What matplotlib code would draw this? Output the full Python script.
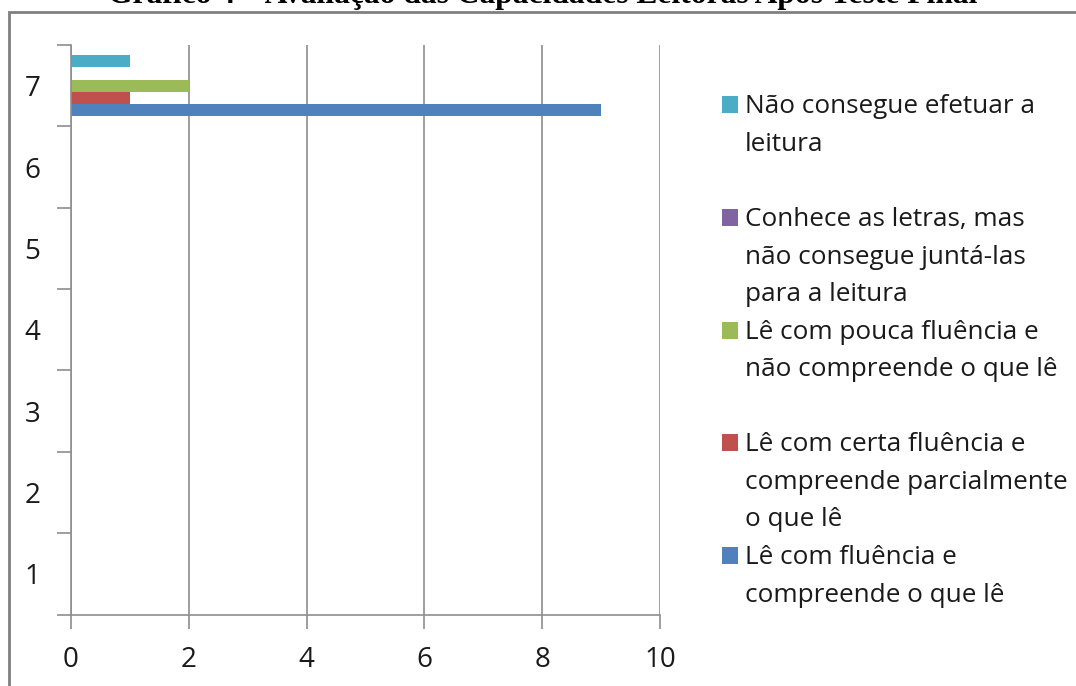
import matplotlib
matplotlib.use('Agg')
import matplotlib.pyplot as plt
from matplotlib.patches import Rectangle

# dados do gráfico
categorias = [1, 2, 3, 4, 5, 6, 7]
le_com_fluencia = [0, 0, 0, 0, 0, 0, 9]
le_certa_fluencia = [0, 0, 0, 0, 0, 0, 1]
le_pouca_fluencia = [0, 0, 0, 0, 0, 0, 2]
conhece_letras = [0, 0, 0, 0, 0, 0, 0]
nao_consegue = [0, 0, 0, 0, 0, 0, 1]

# de baixo para cima dentro de cada categoria
series = [le_com_fluencia, le_certa_fluencia, le_pouca_fluencia, conhece_letras, nao_consegue]
rotulos = [
    ["Lê com fluência e", "compreende o que lê"],
    ["Lê com certa fluência e", "compreende parcialmente", "o que lê"],
    ["Lê com pouca fluência e", "não compreende o que lê"],
    ["Conhece as letras, mas", "não consegue juntá-las", "para a leitura"],
    ["Não consegue efetuar a", "leitura"],
]
cores = ['#4F81BD', '#C0504D', '#9BBB59', '#8064A2', '#4BACC6']

W, H = 1076, 686
fig = plt.figure(figsize=(W / 100, H / 100), dpi=100)
fonte = 'Open Sans'
cinza = '#8E8E8E'

ax = fig.add_axes([71 / W, 1 - 614.5 / H, 589 / W, 569.5 / H])

altura = 0.15
for i, (vals, cor) in enumerate(zip(series, cores)):
    pos = [c + (i - 2) * altura for c in categorias]
    ax.barh(pos, vals, height=altura, color=cor, linewidth=0)

ax.set_xlim(0, 10)
ax.set_ylim(0.5, 7.5)
ax.set_xticks(range(0, 11, 2))
ax.set_yticks([c - 0.5 for c in categorias] + [7.5])
ax.set_yticklabels([])
ax.set_yticks(categorias, minor=True)
ax.set_yticklabels([str(c) for c in categorias], minor=True, fontsize=20, family=fonte, color='#1a1a1a')
ax.tick_params(axis='y', which='major', length=10, width=1.2, color=cinza, direction='out')
ax.tick_params(axis='y', which='minor', length=0, pad=22)
ax.tick_params(axis='x', length=10, width=1.2, color=cinza, direction='out', pad=13, labelsize=20)
for lab in ax.get_xticklabels():
    lab.set_family(fonte)
    lab.set_color('#1a1a1a')

ax.grid(axis='x', color=cinza, linewidth=1.2)
ax.set_axisbelow(True)
for s in ['top', 'right']:
    ax.spines[s].set_visible(False)
for s in ['left', 'bottom']:
    ax.spines[s].set_color(cinza)
    ax.spines[s].set_linewidth(1.2)

# legenda desenhada à mão (marcador alinhado à primeira linha)
base0 = 113.3
passo_item = 112.7
passo_linha = 37.5
for k, i in enumerate(reversed(range(len(series)))):
    base = base0 + k * passo_item
    fig.patches.append(Rectangle((722 / W, 1 - base / H), 16 / W, 17 / H,
                                 transform=fig.transFigure, color=cores[i], lw=0))
    for j, linha in enumerate(rotulos[i]):
        fig.text(745 / W, 1 - (base + j * passo_linha) / H, linha, fontsize=18.8,
                 family=fonte, color='#1a1a1a', va='baseline', ha='left')

# moldura cinza
fig.patches.append(Rectangle((9 / W, -0.2), 1.2, 1.2 - 12 / H, transform=fig.transFigure,
                             fill=False, ec='#808080', lw=2))

# título cortado no topo
fig.text(543 / W, 1 - 3 / H, 'Gráfico 4 – Avaliação das Capacidades Leitoras Após Teste Final',
         fontsize=22.7, family='Liberation Serif', weight='bold', ha='center', va='baseline')

fig.savefig('out.png', dpi=100)
